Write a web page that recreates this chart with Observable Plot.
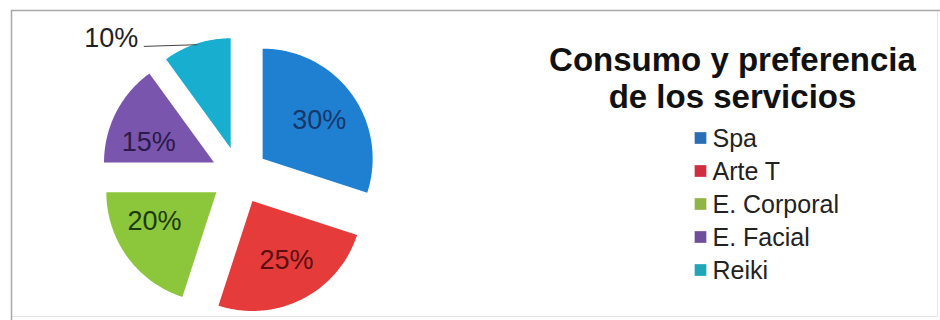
<!DOCTYPE html>
<html><head><meta charset="utf-8">
<script src="https://cdn.jsdelivr.net/npm/d3@7"></script>
<script src="https://cdn.jsdelivr.net/npm/@observablehq/plot@0.6"></script>
<style>
html,body{margin:0;padding:0;background:#fff;}
#chart svg{display:block;font-family:"Liberation Sans",Arial,sans-serif;}
</style>
</head><body><div id="chart"></div>
<script>
// ---- data ----
const categories = ["Spa", "Arte T", "E. Corporal", "E. Facial", "Reiki"];
const values = [30, 25, 20, 15, 10];
const valueLabels = ["30%", "25%", "20%", "15%", "10%"];
const titleLines = ["Consumo y preferencia", "de los servicios"];

// ---- style ----
const sliceColors = ["#1f80d2", "#e63b3b", "#8cc63a", "#7a55ad", "#17aed0"];
const legendColors = ["#2a6fb5", "#cf2e40", "#8fb545", "#6e4f9c", "#22a5b8"];
const labelColors = ["#16376a", "#5a0e0e", "#1b3a0c", "#2a1b4a", "#222222"];
const labelNudgeDeg = [2, -3, 11, -10];   // label angle nudge (layout only)

const W = 940, H = 320, PX = 110;   // pixels per unit radius
const cxPx = 239, cyPx = 175;       // pie centre in the frame
const explode = 0.26;               // slice offset (units of radius)
const labelR = 0.62;                // label distance from slice apex

const total = d3.sum(values);
let acc = 0;
const slices = categories.map((c, i) => {
  const a0 = acc / total * 2 * Math.PI; acc += values[i];
  const a1 = acc / total * 2 * Math.PI;
  const mid = (a0 + a1) / 2;
  return {c, i, a0, a1, mid, ox: explode * Math.sin(mid), oy: explode * Math.cos(mid)};
});

const pts = [];
for (const s of slices) {
  pts.push({c: s.c, x: s.ox, y: s.oy});
  const n = Math.ceil((s.a1 - s.a0) / (Math.PI / 180));
  for (let k = 0; k <= n; k++) {
    const a = s.a0 + (s.a1 - s.a0) * k / n;
    pts.push({c: s.c, x: s.ox + Math.sin(a), y: s.oy + Math.cos(a)});
  }
  pts.push({c: s.c, x: s.ox, y: s.oy});
}

const inside = slices.slice(0, 4).map(s => {
  const a = s.mid + labelNudgeDeg[s.i] * Math.PI / 180;
  return {t: valueLabels[s.i], col: labelColors[s.i],
    x: s.ox + labelR * Math.sin(a), y: s.oy + labelR * Math.cos(a)};
});
const rk = slices[4];
const E = {x: rk.ox + 0.99 * Math.sin(rk.mid), y: rk.oy + 0.99 * Math.cos(rk.mid)};
const S = {x: E.x - 0.48, y: E.y - 0.015};
const leader = [S, E];

const legendMarks = [];
categories.forEach((c, i) => {
  const base = 146 + 33 * i;
  legendMarks.push(Plot.dot([c], {frameAnchor: "top-left", dx: 700, dy: base - 8.5,
    symbol: "square", r: 6.6, fill: legendColors[i], stroke: "none"}));
  legendMarks.push(Plot.text([c], {frameAnchor: "top-left", dx: 712, dy: base,
    text: d => d, textAnchor: "start", lineAnchor: "bottom", fontSize: 25, fill: "#222"}));
});

const chart = Plot.plot({
  width: W, height: H,
  marginTop: 0, marginRight: 0, marginBottom: 0, marginLeft: 0,
  style: {fontFamily: '"Liberation Sans", Arial, sans-serif', background: "#fff"},
  x: {domain: [-cxPx / PX, (W - cxPx) / PX], axis: null},
  y: {domain: [-(H - cyPx) / PX, cyPx / PX], axis: null},
  color: {type: "ordinal", domain: categories, range: sliceColors},
  marks: [
    Plot.frame({stroke: "#e6e6e6", insetLeft: 11, insetTop: 10, insetRight: 3, insetBottom: 4}),
    Plot.frame({stroke: "#a8a8a8", strokeWidth: 1.5, insetLeft: 11, insetTop: 10, insetRight: -20, insetBottom: -20}),
    Plot.line(pts, {x: "x", y: "y", z: "c", fill: "c", stroke: "none"}),
    Plot.text(inside, {x: "x", y: "y", text: "t", fill: "col", fontSize: 27}),
    Plot.line(leader, {x: "x", y: "y", stroke: "#444", strokeWidth: 1}),
    Plot.text([S], {x: "x", y: "y", text: () => valueLabels[4], fill: labelColors[4],
      fontSize: 27, textAnchor: "end", dx: -6, dy: -8}),
    Plot.text([titleLines.join("\n")], {frameAnchor: "top-left", dx: 732, dy: 107,
      text: d => d, textAnchor: "middle", lineAnchor: "bottom", lineHeight: 1.12,
      fontSize: 33, fontWeight: "bold", fill: "#111"}),
    ...legendMarks
  ]
});
document.getElementById("chart").appendChild(chart);
</script>
</body></html>
